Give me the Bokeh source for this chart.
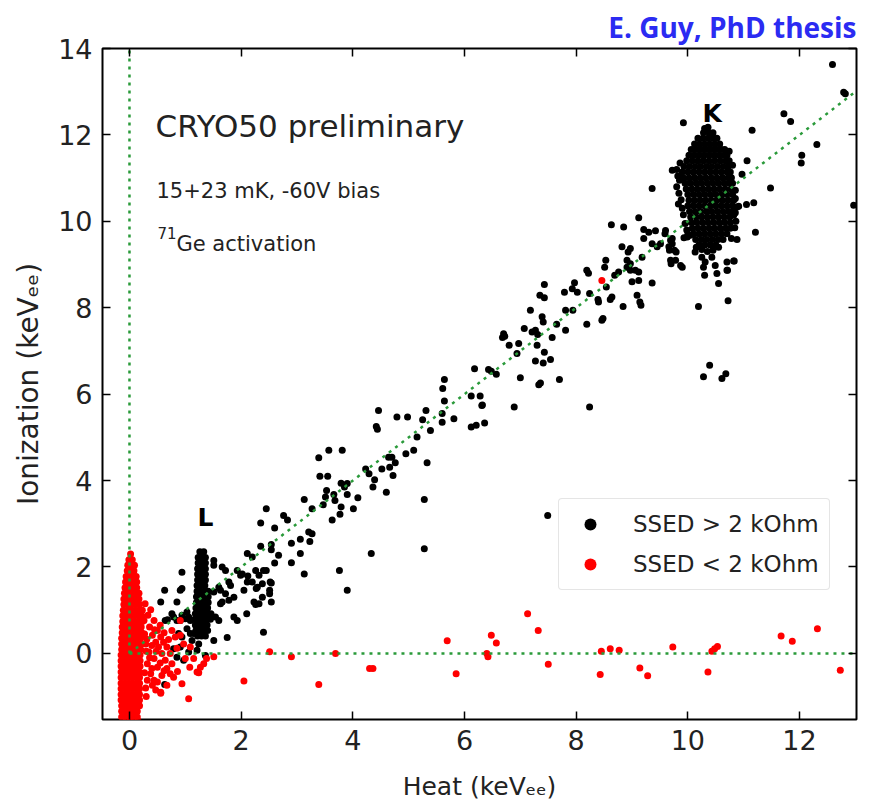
import math
from bokeh.plotting import figure
from bokeh.models import (Label, LinearAxis, FixedTicker, Legend, LegendItem,
                          ColumnDataSource, Range1d)
from bokeh.embed import file_html
from bokeh.resources import INLINE

# ------------------------------------------------------------------ data
# Heat (keVee), Ionization (keVee) of sparse events with SSED > 2 kOhm
black_sparse = [
    (0.56, 1.19), (0.63, 1.46), (0.64, 0.76), (0.68, 0.78), (0.76, 0.92), (0.79, 0.84),
    (0.85, 1.19), (0.85, 0.76), (0.91, 1.46), (0.94, 1.50), (0.94, 1.88), (0.91, 0.76),
    (0.94, 0.88), (1.00, 0.80), (1.06, 0.84), (1.03, 0.96), (1.09, 0.76), (1.03, 0.57),
    (1.09, 0.46), (0.94, 0.38), (0.88, 0.46), (0.91, 0.15), (0.79, 0.11), (1.06, 0.03),
    (0.85, -0.09), (0.97, -0.16), (1.21, 0.07), (1.36, -0.05), (1.24, 0.22), (1.51, 0.30),
    (1.75, 0.37), (0.63, -0.72), (1.15, 0.46), (1.12, 0.30),
    (1.51, 2.15), (1.51, 2.04), (1.66, 2.00), (1.72, 1.92), (1.60, 1.53), (1.63, 1.46),
    (1.51, 1.42), (1.78, 1.65), (1.81, 1.57), (1.93, 1.92), (1.99, 1.81), (1.72, 1.38),
    (1.78, 1.23), (1.87, 1.30), (1.63, 1.15), (1.66, 1.19), (1.54, 0.84), (1.60, 0.76),
    (1.87, 0.84), (1.93, 0.76), (2.05, 1.46), (2.11, 1.65), (2.10, 0.92), (2.02, 1.84),
    (2.12, 1.79), (2.20, 1.65), (2.11, 2.31), (2.26, 1.92), (2.40, 1.92), (2.29, 1.53),
    (2.38, 1.61), (2.38, 1.30), (2.23, 1.19), (2.32, 1.15), (2.40, 0.49), (2.52, 1.65),
    (2.51, 1.38), (2.54, 1.19),
    (2.20, 2.23), (2.32, 1.81), (2.45, 1.92), (2.54, 1.63), (2.51, 1.46), (2.27, 1.50),
    (2.26, 1.13), (2.35, 2.48), (2.60, 2.09), (2.67, 2.27), (2.54, 2.52), (2.54, 2.40),
    (2.60, 2.90), (2.35, 3.02), (2.45, 3.35), (2.76, 3.19), (2.83, 3.09), (2.90, 2.55),
    (2.90, 2.10), (3.06, 2.64), (3.06, 2.31), (3.13, 1.84), (3.21, 2.81), (3.27, 2.77),
    (3.23, 2.59), (3.13, 3.56), (3.27, 3.35), (3.39, 4.53), (3.41, 4.10), (3.55, 4.10),
    (3.57, 4.70), (3.81, 4.70), (3.47, 3.44), (3.53, 3.77), (3.51, 3.62), (3.66, 3.68),
    (3.68, 3.54), (3.63, 3.09), (3.77, 3.22), (3.79, 3.39), (3.79, 3.94), (3.90, 3.93),
    (3.85, 3.85), (3.90, 3.68), (4.01, 3.35), (4.09, 3.60), (3.76, 1.92), (3.90, 1.46),
    (4.33, 2.31), (4.29, 4.16), (4.23, 4.27), (4.39, 4.02), (4.36, 3.85), (4.60, 3.73),
    (4.52, 4.27), (4.66, 4.31), (4.72, 4.12), (4.64, 4.54), (4.70, 4.54), (4.76, 4.41),
    (4.95, 4.62), (5.09, 4.70), (5.15, 5.01), (5.28, 3.56), (5.28, 2.42), (5.33, 4.41),
    (4.46, 5.62), (4.42, 5.25), (4.44, 5.19), (4.79, 5.47), (4.98, 5.47), (5.31, 5.62),
    (5.25, 5.41), (5.39, 5.16),
    (5.60, 5.55), (5.60, 5.35), (5.81, 5.43), (6.12, 5.24), (6.21, 5.28), (6.36, 5.33),
    (6.31, 5.74), (6.89, 5.70), (8.24, 5.70), (7.49, 3.19), (5.64, 6.34), (5.61, 6.13),
    (6.12, 5.96), (6.28, 5.96), (6.32, 5.75), (5.64, 5.84), (6.18, 6.59), (6.43, 6.57),
    (6.48, 6.53), (6.57, 6.46), (7.00, 6.38), (7.70, 6.34), (7.33, 6.22), (7.36, 6.26),
    (6.70, 7.40), (6.72, 7.34), (6.68, 7.31), (6.80, 7.13), (6.97, 7.17), (7.30, 7.13),
    (6.94, 6.94), (7.43, 6.97), (7.27, 6.77), (7.41, 6.72), (7.54, 6.80), (7.07, 7.52),
    (7.21, 7.44), (7.27, 7.48), (7.31, 7.38), (7.57, 7.31), (7.65, 7.62), (7.81, 7.48),
    (7.18, 7.94), (7.81, 7.94), (7.39, 7.79), (7.41, 7.67), (7.94, 7.94), (8.48, 7.75),
    (8.46, 7.71), (8.19, 7.62), (7.43, 8.54), (7.97, 8.58), (7.93, 8.44), (8.02, 8.36),
    (7.79, 8.36), (7.35, 8.29), (7.43, 8.23), (8.24, 8.33), (8.39, 8.19), (8.40, 8.13),
    (8.64, 8.25), (8.61, 8.19), (8.54, 8.48), (8.53, 9.10), (8.51, 8.94), (8.19, 8.87),
    (8.22, 8.80), (8.69, 8.75), (8.76, 8.83), (8.84, 8.03), (9.14, 8.13), (9.16, 8.06),
    (9.09, 8.29), (9.00, 8.60), (9.12, 8.63), (9.36, 8.57), (9.12, 8.83), (9.06, 8.87),
    (8.91, 8.94), (8.97, 8.87), (8.91, 9.10), (8.97, 9.02), (9.18, 9.17), (8.82, 9.41),
    (8.97, 9.37), (8.93, 9.29), (8.63, 9.92), (8.85, 9.87), (9.12, 10.08), (9.21, 9.81),
    (9.30, 9.75), (9.42, 9.78), (9.21, 9.60), (9.36, 9.48), (9.45, 9.41), (9.51, 9.48),
    (9.60, 9.79), (9.59, 9.71), (9.72, 9.60), (9.69, 9.56), (9.72, 9.48), (9.66, 9.41),
    (9.67, 9.33), (9.76, 9.33), (9.79, 9.29), (9.69, 9.10), (9.78, 9.10), (9.70, 9.02),
    (9.87, 8.98), (9.90, 8.94), (9.93, 9.62), (9.99, 9.64), (10.04, 9.68), (10.13, 9.29),
    (10.25, 9.17), (10.31, 9.06), (10.28, 8.94), (10.30, 8.75), (10.43, 9.17), (10.49, 8.98),
    (10.52, 8.79), (10.70, 9.06), (10.83, 9.08), (10.70, 8.87), (10.55, 8.56), (10.72, 8.16),
    (10.19, 8.03), (10.39, 6.67), (10.28, 6.40), (10.61, 6.36), (10.68, 6.47), (9.72, 11.18),
    (9.36, 10.76), (9.92, 12.28),
    (12.59, 13.63), (12.79, 12.99), (12.82, 12.95), (11.72, 12.49), (11.84, 12.31),
    (11.15, 12.11), (12.31, 11.78), (12.04, 11.53), (12.03, 11.35), (11.48, 10.77),
    (11.06, 11.40), (10.97, 11.09), (11.18, 10.43), (11.05, 10.39), (10.91, 10.35),
    (10.85, 10.72), (10.85, 10.53), (10.88, 10.33), (11.21, 9.75), (10.82, 10.14),
    (10.88, 9.58), (10.82, 9.08), (10.71, 8.87), (12.97, 10.37),
]

# L-line cluster (SSED > 2 kOhm): ionization row -> heat values
l_rows = {
    2.35: [1.26, 1.33], 2.22: [1.23, 1.30, 1.36], 2.09: [1.23, 1.30, 1.36],
    1.96: [1.22, 1.29, 1.36], 1.83: [1.22, 1.29, 1.36], 1.70: [1.22, 1.29, 1.36],
    1.57: [1.21, 1.28, 1.35], 1.44: [1.21, 1.28, 1.35, 1.41], 1.31: [1.20, 1.27, 1.34, 1.41],
    1.18: [1.20, 1.27, 1.34, 1.41], 1.05: [1.19, 1.26, 1.33, 1.40],
    0.92: [1.18, 1.25, 1.32, 1.39, 1.46], 0.79: [1.17, 1.24, 1.31, 1.38, 1.45],
    0.66: [1.18, 1.25, 1.32, 1.39], 0.53: [1.19, 1.26, 1.33, 1.40], 0.40: [1.22, 1.29, 1.36],
}

# K-line cluster (SSED > 2 kOhm): ionization row -> heat values
k_rows = {
    12.05: [10.28, 10.38, 10.45],
    11.92: [10.18, 10.27, 10.36, 10.45, 10.52],
    11.79: [10.12, 10.21, 10.30, 10.39, 10.48, 10.57],
    11.66: [10.06, 10.15, 10.24, 10.33, 10.42, 10.51, 10.60, 10.66],
    11.53: [10.02, 10.11, 10.20, 10.29, 10.38, 10.47, 10.56, 10.65, 10.70],
    11.40: [9.98, 10.08, 10.18, 10.28, 10.38, 10.48, 10.58, 10.68, 10.74],
    11.27: [9.93, 10.03, 10.13, 10.23, 10.33, 10.43, 10.53, 10.63, 10.72],
    11.14: [9.90, 10.00, 10.10, 10.20, 10.30, 10.40, 10.50, 10.60, 10.70, 10.76],
    11.01: [9.92, 10.02, 10.12, 10.22, 10.32, 10.42, 10.52, 10.62, 10.72, 10.78],
    10.88: [9.95, 10.05, 10.15, 10.25, 10.35, 10.45, 10.55, 10.65, 10.75, 10.80],
    10.75: [9.97, 10.07, 10.17, 10.27, 10.37, 10.47, 10.57, 10.67, 10.77],
    10.62: [10.00, 10.10, 10.20, 10.30, 10.40, 10.50, 10.60, 10.70, 10.80],
    10.49: [10.02, 10.12, 10.22, 10.32, 10.42, 10.52, 10.62, 10.72, 10.82],
    10.36: [10.00, 10.10, 10.20, 10.30, 10.40, 10.50, 10.60, 10.70, 10.80],
    10.23: [10.03, 10.13, 10.23, 10.33, 10.43, 10.53, 10.63, 10.73, 10.82],
    10.10: [10.05, 10.15, 10.25, 10.35, 10.45, 10.55, 10.65, 10.75],
    9.97: [10.06, 10.16, 10.26, 10.36, 10.46, 10.56, 10.66, 10.76],
    9.84: [10.08, 10.18, 10.28, 10.38, 10.48, 10.58, 10.68, 10.76],
    9.71: [10.10, 10.20, 10.30, 10.40, 10.50, 10.60, 10.70],
    9.58: [10.14, 10.24, 10.34, 10.44, 10.54, 10.63],
    9.45: [10.20, 10.30, 10.40, 10.50],
}
k_fringe = [
    (9.80, 11.20), (9.82, 11.05), (9.85, 10.95), (9.80, 10.80), (9.84, 10.65), (9.88, 10.50),
    (9.90, 10.30), (9.92, 10.15), (9.95, 9.95), (9.98, 9.80), (10.00, 9.70), (10.85, 10.20),
    (10.86, 10.00), (10.84, 9.85), (10.78, 9.60), (10.25, 9.35), (10.35, 9.30), (10.45, 9.33),
    (10.15, 9.40), (10.55, 9.40), (10.30, 12.15), (10.36, 12.18), (9.86, 11.35), (9.83, 10.40),
    (10.80, 11.30), (10.74, 11.62),
]

# Heat-only column (SSED < 2 kOhm): ionization row -> heat values
red_rows = {
    2.30: [0.02], 2.17: [-0.01, 0.05], 2.04: [-0.03, 0.03, 0.09], 1.91: [-0.04, 0.02, 0.08],
    1.78: [-0.06, 0.01, 0.08, 0.12], 1.65: [-0.07, 0.00, 0.07, 0.13],
    1.52: [-0.08, -0.01, 0.06, 0.13], 1.39: [-0.09, -0.02, 0.05, 0.12, 0.17],
    1.26: [-0.10, -0.03, 0.04, 0.11, 0.17], 1.13: [-0.10, -0.03, 0.04, 0.11, 0.18],
    1.00: [-0.11, -0.04, 0.03, 0.10, 0.17, 0.23], 0.87: [-0.12, -0.05, 0.02, 0.09, 0.16, 0.22],
    0.74: [-0.12, -0.05, 0.02, 0.09, 0.16, 0.23], 0.61: [-0.13, -0.06, 0.01, 0.08, 0.15, 0.21],
    0.48: [-0.13, -0.06, 0.01, 0.08, 0.15, 0.22], 0.35: [-0.14, -0.07, 0.00, 0.07, 0.14, 0.20],
    0.22: [-0.14, -0.07, 0.00, 0.07, 0.14, 0.21], 0.09: [-0.14, -0.07, 0.00, 0.07, 0.14, 0.20],
    -0.04: [-0.15, -0.08, -0.01, 0.06, 0.13, 0.19], -0.17: [-0.15, -0.08, -0.01, 0.06, 0.13, 0.19],
    -0.30: [-0.15, -0.08, -0.01, 0.06, 0.13, 0.19], -0.43: [-0.15, -0.08, -0.01, 0.06, 0.13, 0.18],
    -0.56: [-0.15, -0.08, -0.01, 0.06, 0.13, 0.18], -0.69: [-0.15, -0.08, -0.01, 0.06, 0.13, 0.18],
    -0.82: [-0.15, -0.08, -0.01, 0.06, 0.13, 0.18], -0.95: [-0.15, -0.08, -0.01, 0.06, 0.13, 0.18],
    -1.08: [-0.15, -0.08, -0.01, 0.06, 0.13, 0.18], -1.21: [-0.14, -0.07, 0.00, 0.07, 0.14, 0.18],
    -1.34: [-0.14, -0.07, 0.00, 0.07, 0.14], -1.47: [-0.14, -0.07, 0.00, 0.07, 0.14],
    -1.56: [-0.12, -0.05, 0.02, 0.09, 0.15],
}

# sparse events with SSED < 2 kOhm
red_sparse = [
    (0.38, 1.01), (0.44, 0.76), (0.36, 0.61), (0.50, 0.53), (0.41, 0.42), (0.56, 0.38),
    (0.47, 0.26), (0.61, 0.26), (0.52, 0.15), (0.67, 0.15), (0.35, 0.03), (0.58, 0.00),
    (0.73, 0.00), (0.44, -0.12), (0.64, -0.16), (0.76, -0.24), (0.50, -0.32), (0.67, -0.35),
    (0.38, -0.47), (0.58, -0.51), (0.44, -0.62), (0.50, -0.66), (0.67, -0.74), (0.56, -0.90),
    (0.32, -0.62), (0.32, -0.24), (0.29, 0.22), (0.26, 0.76), (0.73, -0.47), (0.91, 0.76),
    (0.76, 0.53), (0.82, 0.38), (0.91, 0.42), (0.94, -0.70), (1.06, -1.05), (1.08, -0.32),
    (1.00, -0.12), (1.15, -0.12), (1.21, -0.43), (1.27, -0.32), (1.38, -0.12), (1.09, 0.15),
    (0.97, 0.22), (0.41, -0.74), (0.56, -0.92), (0.79, -0.55), (1.33, -0.24), (1.24, -0.45),
    (1.51, -0.08), (0.27, 0.45), (0.30, -1.00), (0.28, 1.15),
    (0.33, 0.88), (0.40, 0.18), (0.45, 0.55), (0.55, 0.65), (0.62, 0.48), (0.31, 0.33),
    (0.36, -0.10), (0.48, 0.05), (0.55, -0.22), (0.40, -0.35), (0.62, -0.40), (0.29, -0.80),
    (0.47, -0.85), (0.70, 0.32), (0.85, 0.12), (0.86, -0.42), (0.30, 0.05), (0.27, -0.45),
    (2.05, -0.64), (2.51, 0.04), (2.90, -0.08), (3.39, -0.72), (3.69, 0.00), (4.30, -0.35),
    (4.36, -0.35), (5.69, 0.29), (5.85, -0.47), (6.48, 0.42), (6.57, 0.24), (6.40, 0.00),
    (6.42, -0.08), (7.13, 0.92), (7.32, 0.53), (7.50, -0.25), (8.45, 0.05), (8.43, -0.49),
    (8.61, 0.11), (8.77, 0.07), (9.14, -0.34), (9.28, -0.52), (9.73, 0.15), (10.36, -0.43),
    (10.43, 0.05), (10.48, 0.11), (10.53, 0.16), (11.67, 0.40), (11.87, 0.28), (12.32, 0.57),
    (12.73, -0.39), (8.46, 8.63),
]

# guide lines (dotted green): vertical heat=0, horizontal ion=0, diagonal ion=heat
guide_xs = [[0, 0], [0, 13.02], [0, 13.02]]
guide_ys = [[0, 14], [0, 0], [0, 13.02]]

x_ticks = [0, 2, 4, 6, 8, 10, 12]
y_ticks = [0, 2, 4, 6, 8, 10, 12, 14]
legend_labels = ["SSED > 2 kOhm", "SSED < 2 kOhm"]

# ------------------------------------------------------------------ assemble
def rows_to_points(rows):
    pts = []
    for yv, xs in rows.items():
        for xv in xs:
            pts.append((xv, yv))
    return pts

black_all = black_sparse + rows_to_points(l_rows) + rows_to_points(k_rows) + k_fringe
red_all = rows_to_points(red_rows) + red_sparse

src_black = ColumnDataSource(dict(x=[p[0] for p in black_all], y=[p[1] for p in black_all]))
src_red = ColumnDataSource(dict(x=[p[0] for p in red_all], y=[p[1] for p in red_all]))

FONT = "DejaVu Sans"
TXT = "#222222"

p = figure(width=870, height=803, output_backend="svg", toolbar_location=None,
           x_range=Range1d(-0.483, 13.02), y_range=Range1d(-1.53, 14.0),
           min_border_left=102, min_border_right=14, min_border_top=48, min_border_bottom=84)
p.background_fill_color = "white"
p.border_fill_color = "white"
p.outline_line_color = "black"
p.outline_line_width = 2
p.grid.visible = False

# title (credit line, top right)
p.title.text = "E. Guy, PhD thesis"
p.title.align = "right"
p.title.text_font = "Open Sans"
p.title.text_font_style = "bold"
p.title.text_font_size = "28px"
p.title.text_color = "#2b2bf2"
p.title.standoff = 6
p.title.offset = 0


def style_axis(ax, ticks, show_labels):
    ax.ticker = FixedTicker(ticks=ticks)
    ax.minor_tick_line_color = None
    ax.major_tick_in = 8
    ax.major_tick_out = 0
    ax.major_tick_line_width = 1.5
    ax.major_tick_line_color = "black"
    ax.axis_line_color = None
    ax.major_label_text_font = FONT
    if show_labels:
        ax.major_label_text_color = TXT
        ax.major_label_text_font_size = "27px"
        ax.major_label_standoff = 10
    else:
        ax.major_label_text_color = None
        ax.major_label_text_font_size = "2px"
        ax.major_label_standoff = 0


xa = p.below[0]
ya = p.left[0]
style_axis(xa, x_ticks, True)
style_axis(ya, y_ticks, True)
ax_top = LinearAxis()
style_axis(ax_top, x_ticks, False)
p.add_layout(ax_top, "above")
ax_right = LinearAxis()
style_axis(ax_right, y_ticks, False)
p.add_layout(ax_right, "right")

xa.axis_label = "Heat (keV\u2091\u2091)"
xa.axis_label_text_font = FONT
xa.axis_label_text_font_style = "normal"
xa.axis_label_text_font_size = "25px"
xa.axis_label_text_color = TXT
xa.axis_label_standoff = 19

ya.axis_label = "Ionization (keV\u2091\u2091)"
ya.axis_label_text_font = FONT
ya.axis_label_text_font_style = "normal"
ya.axis_label_text_font_size = "28px"
ya.axis_label_text_color = TXT
ya.axis_label_standoff = 10

rb = p.scatter("x", "y", source=src_black, size=7, color="black", line_width=0)
rr = p.scatter("x", "y", source=src_red, size=7, color="#ff0000", line_width=0)
p.multi_line(guide_xs, guide_ys, line_color="#2a9a3a", line_width=2.5, line_dash="3 5")

legend = Legend(items=[LegendItem(label=legend_labels[0], renderers=[rb]),
                       LegendItem(label=legend_labels[1], renderers=[rr])],
                location=(456, 129))
legend.margin = 0
legend.padding = 10
legend.spacing = 10
legend.glyph_width = 42
legend.glyph_height = 30
legend.label_height = 30
legend.label_standoff = 22
legend.label_text_font = FONT
legend.label_text_font_size = "23px"
legend.label_text_color = TXT
legend.border_line_color = "#cccccc"
legend.border_line_width = 1.5
legend.background_fill_color = "white"
legend.background_fill_alpha = 0.85
if "border_radius" in Legend.properties():
    legend.border_radius = 4
p.add_layout(legend)

# --- text annotations inside the frame (screen units from the frame's bottom-left)
FL, FB = 102, 719


def add_label(text, ix, iy, size, bold=False, color=TXT):
    p.add_layout(Label(x=ix - FL, y=FB - iy, x_units="screen", y_units="screen", text=text,
                       text_font=FONT, text_font_size=size, text_color=color,
                       text_font_style="bold" if bold else "normal",
                       text_align="left", text_baseline="alphabetic"))


add_label("CRYO50 preliminary", 155, 125, "31px")
add_label("15+23 mK, -60V bias", 156, 190, "21px")
add_label("71", 157, 232, "15px")
add_label("Ge activation", 176, 243, "21px")
add_label("K", 702, 113, "25px", bold=True, color="black")
add_label("L", 197, 517, "25px", bold=True, color="black")

open("out.html", "w").write(file_html(p, INLINE))
